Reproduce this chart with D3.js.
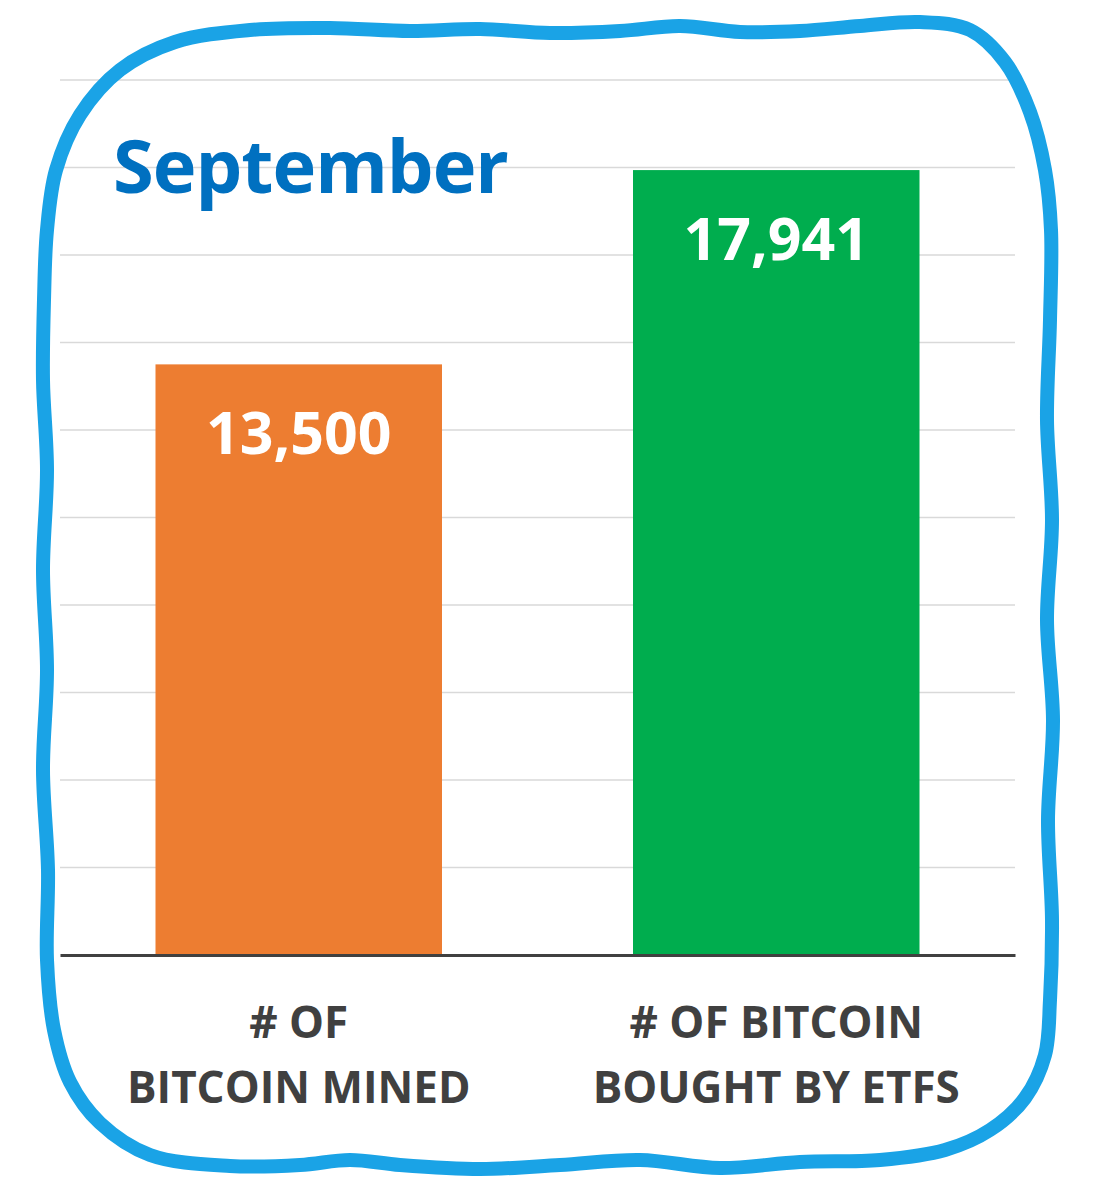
<!DOCTYPE html>
<html>
<head>
<meta charset="utf-8">
<script src="https://cdn.jsdelivr.net/npm/d3@7"></script>
<style>
  html, body { margin: 0; padding: 0; background: #ffffff; }
  svg { display: block; }
</style>
</head>
<body>
<svg id="chart" width="1098" height="1200"></svg>
<script>
// ---- data ----
const title = "September";
const categories = ["# OF|BITCOIN MINED", "# OF BITCOIN|BOUGHT BY ETFS"];
const values = [13500, 17941];
const barColors = ["#ed7d31", "#00ad4e"];
const yTicks = [0, 2000, 4000, 6000, 8000, 10000, 12000, 14000, 16000, 18000, 20000];

// ---- layout ----
const W = 1098, H = 1200;
const plot = { left: 60, right: 1015, top: 80, bottom: 955 };
const svg = d3.select("#chart");

svg.append("rect").attr("width", W).attr("height", H).attr("fill", "#ffffff");

const x = d3.scaleBand()
  .domain(d3.range(categories.length))
  .range([plot.left, plot.right])
  .paddingInner(0.4)
  .paddingOuter(0.2);

const y = d3.scaleLinear()
  .domain([0, 20000])
  .range([plot.bottom, plot.top]);

// gridlines
svg.append("g")
  .selectAll("line")
  .data(yTicks.filter(t => t > 0))
  .join("line")
  .attr("x1", plot.left).attr("x2", plot.right)
  .attr("y1", d => y(d)).attr("y2", d => y(d))
  .attr("stroke", "#d9d9d9")
  .attr("stroke-width", 1.5);

// bars
svg.append("g")
  .selectAll("rect")
  .data(values)
  .join("rect")
  .attr("x", (d, i) => x(i))
  .attr("width", x.bandwidth())
  .attr("y", d => y(d))
  .attr("height", d => y(0) - y(d))
  .attr("fill", (d, i) => barColors[i]);

// baseline axis
const xAxis = d3.axisBottom(x).tickSize(0).tickFormat("");
const axG = svg.append("g").attr("transform", `translate(0,${plot.bottom})`).call(xAxis);
axG.select(".domain").attr("stroke", "#404040").attr("stroke-width", 3);

// value labels
svg.append("g")
  .selectAll("text")
  .data(values)
  .join("text")
  .attr("x", (d, i) => x(i) + x.bandwidth() / 2)
  .attr("y", d => y(d) + 90)
  .attr("text-anchor", "middle")
  .attr("font-family", "'Open Sans', sans-serif")
  .attr("font-weight", 700)
  .attr("font-size", 59)
  .attr("fill", "#ffffff")
  .text(d => d3.format(",")(d));

// category labels
const catG = svg.append("g");
categories.forEach((c, i) => {
  const lines = c.split("|");
  const t = catG.append("text")
    .attr("x", x(i) + x.bandwidth() / 2)
    .attr("y", 1038)
    .attr("text-anchor", "middle")
    .attr("font-family", "'Open Sans', sans-serif")
    .attr("font-weight", 700)
    .attr("font-size", 44)
    .attr("fill", "#404040");
  lines.forEach((ln, j) => {
    t.append("tspan")
      .attr("x", x(i) + x.bandwidth() / 2)
      .attr("dy", j === 0 ? 0 : 65)
      .text(ln);
  });
});

// title
svg.append("text")
  .attr("x", 113)
  .attr("y", 193)
  .attr("font-family", "'Open Sans', sans-serif")
  .attr("font-weight", 700)
  .attr("font-size", 74)
  .attr("fill", "#0070c0")
  .attr("letter-spacing", -1)
  .text(title);

// decorative hand-drawn frame
const frame = [
  [44,300],[47,230],[56,170],[80,115],[120,70],[175,42],[250,30],
  [330,28],[410,31],[480,29],[550,33],[620,31],[680,26],[740,32],[800,31],[860,26],[920,22],
  [970,30],[1005,62],[1030,112],[1045,170],[1051,230],
  [1050,320],[1047,420],[1052,520],[1047,620],[1053,720],[1048,820],[1052,920],[1050,1000],
  [1045,1055],[1025,1098],[990,1130],[945,1150],[880,1160],
  [800,1162],[720,1168],[640,1160],[560,1165],[480,1169],[400,1165],[350,1160],[300,1165],[230,1166],
  [150,1155],[100,1123],[70,1082],[54,1030],[47,960],
  [48,870],[43,770],[47,670],[43,570],[47,470],[43,380]
];
svg.append("path")
  .attr("d", d3.line().curve(d3.curveCatmullRomClosed.alpha(0.5))(frame))
  .attr("fill", "none")
  .attr("stroke", "#1aa3e6")
  .attr("stroke-width", 14)
  .attr("stroke-linejoin", "round");
</script>
</body>
</html>
